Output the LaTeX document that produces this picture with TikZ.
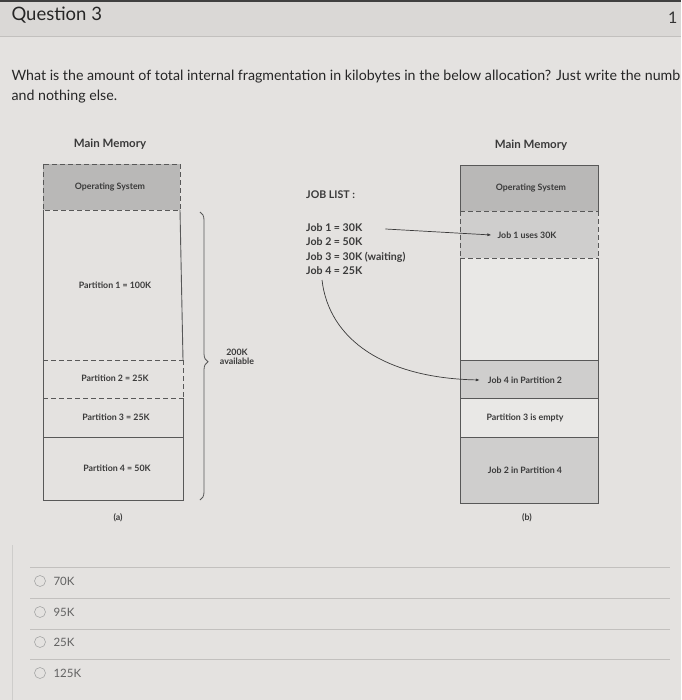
\documentclass[tikz,border=0pt]{standalone}
\usepackage{fontspec}
\setmainfont{Lato}
\usetikzlibrary{arrows.meta,positioning,decorations.pathreplacing}
\definecolor{paper}{HTML}{E4E2E0}
\definecolor{headbg}{HTML}{DAD8D6}
\definecolor{osgray}{HTML}{B9B8B7}
\definecolor{jobgray}{HTML}{CFCECD}
\definecolor{emptybg}{HTML}{E9E8E6}
\definecolor{ink}{HTML}{3A3A3A}
\definecolor{rule}{HTML}{C2C0BE}

\begin{document}
\begin{tikzpicture}[x=1pt,y=-1pt,
    mem/.style={line width=0.9pt,draw=ink!85},
    memdash/.style={line width=0.9pt,draw=ink!85,dash pattern=on 5pt off 3pt},
    lbl/.style={font=\fontsize{8.8}{10}\selectfont\bfseries,text=ink,inner sep=1pt},
    head/.style={font=\fontsize{11.5}{13}\selectfont\bfseries,text=ink},
    jobtxt/.style={anchor=west,font=\fontsize{10.6}{12}\selectfont\bfseries,text=ink,inner sep=1pt},
    arr/.style={-{Latex[length=4pt,width=3pt]},line width=0.7pt,draw=ink},
    optxt/.style={anchor=west,font=\fontsize{11.5}{13}\selectfont,text=ink!80},
    radio/.style={draw=gray!70,line width=0.6pt}]
    \useasboundingbox (0,0) rectangle (681,700);
    \fill[paper] (0,0) rectangle (681,700);

    % header of the question
    \fill[headbg] (0,0) rectangle (681,36);
    \fill[black!75] (0,0) rectangle (681,2.5);
    \draw[rule,line width=0.8pt] (0,36) -- (681,36);
    \node[anchor=west,font=\fontsize{18.5}{20}\selectfont,text=black!85] (qtitle) at (8,15) {Question 3};
    \node[anchor=east,font=\fontsize{16}{18}\selectfont,text=black!80] (qpts) at (681,18) {1};
    \node[anchor=west,font=\fontsize{14.2}{16}\selectfont,text=black!85] (qline1) at (8,77)
        {What is the amount of total internal fragmentation in kilobytes in the below allocation? Just write the numb};
    \node[anchor=west,font=\fontsize{14.2}{16}\selectfont,text=black!85] (qline2) at (8,97) {and nothing else.};

    % (a) memory before allocation
    \node[head] (mma) at (110,144) {Main Memory};
    \fill[osgray] (43,164) rectangle (180,210);
    \draw[memdash] (43,164) rectangle (180,210);
    \draw[mem] (43,210) -- (43,500) -- (183,500) -- (183,398);
    \draw[mem] (180,210) -- (183,360);
    \draw[memdash] (183,360) -- (183,398);
    \draw[memdash] (43,360) -- (183,360);
    \draw[memdash] (43,398) -- (183,398);
    \draw[mem] (43,437) -- (183,437);
    \node[lbl] (osa) at (110,187) {Operating System};
    \node[lbl] (pa1) at (115,285) {Partition 1 = 100K};
    \node[lbl] (pa2) at (115,378) {Partition 2 = 25K};
    \node[lbl] (pa3) at (116,417) {Partition 3 = 25K};
    \node[lbl] (pa4) at (117,468) {Partition 4 = 50K};
    \node[lbl] (capa) at (118,518) {(a)};
    \draw[mem,line width=0.8pt,decorate,decoration={brace,amplitude=8pt,aspect=0.52}] (200,212) -- (200,500);
    \node[lbl,align=center,font=\fontsize{8.8}{9}\selectfont\bfseries] (avail) at (237,357) {200K\\available};

    % job list
    \node[jobtxt] (jlist) at (305,195) {JOB LIST :};
    \node[jobtxt] (job1) at (305,228) {Job 1 = 30K};
    \node[jobtxt] (job2) at (305,242) {Job 2 = 50K};
    \node[jobtxt] (job3) at (305,257) {Job 3 = 30K (waiting)};
    \node[jobtxt] (job4) at (305,271) {Job 4 = 25K};

    % (b) memory after allocation
    \node[head] (mmb) at (531,145) {Main Memory};
    \fill[osgray] (460,165) rectangle (598,211);
    \fill[jobgray] (460,211) rectangle (598,258);
    \fill[emptybg] (460,258) rectangle (598,360);
    \fill[jobgray] (460,360) rectangle (598,398);
    \fill[emptybg] (460,398) rectangle (598,437);
    \fill[jobgray] (460,437) rectangle (598,503);
    \draw[mem] (460,211) -- (460,165) -- (598,165) -- (598,211);
    \draw[memdash] (460,211) -- (598,211);
    \draw[memdash] (460,211) -- (460,258);
    \draw[memdash] (598,211) -- (598,258);
    \draw[memdash] (460,258) -- (598,258);
    \draw[mem] (460,258) -- (460,503) -- (598,503) -- (598,258);
    \draw[mem] (460,360) -- (598,360);
    \draw[mem] (460,398) -- (598,398);
    \draw[mem] (460,437) -- (598,437);
    \node[lbl] (osb) at (531,188) {Operating System};
    \node[lbl] (use1) at (527,235) {Job 1 uses 30K};
    \node[lbl] (inp2) at (525,380) {Job 4 in Partition 2};
    \node[lbl] (emp3) at (525,418) {Partition 3 is empty};
    \node[lbl] (inp4) at (525,470) {Job 2 in Partition 4};
    \node[lbl] (capb) at (527,518) {(b)};

    \draw[arr] ([xshift=22pt,yshift=-1pt]job1.east) -- ([xshift=-5pt]use1.west);
    \draw[arr] ([xshift=17pt,yshift=-9pt]job4.west) .. controls (329,340) and (385,378) .. ([xshift=-7pt]inp2.west);

    % answer options
    \draw[rule!80,line width=0.5pt] (12,545) -- (12,700);
    \foreach \yy in {567,598,629,659} {
        \draw[rule,line width=0.6pt] (30,\yy) -- (670,\yy);
    }
    \foreach \yy/\ans/\nm in {581/70K/opa,612/95K/opb,642/25K/opc,673/125K/opd} {
        \draw[radio] (40,\yy) circle (5.5pt);
        \node[optxt] (\nm) at (50,\yy) {\ans};
    }
\end{tikzpicture}
\end{document}
